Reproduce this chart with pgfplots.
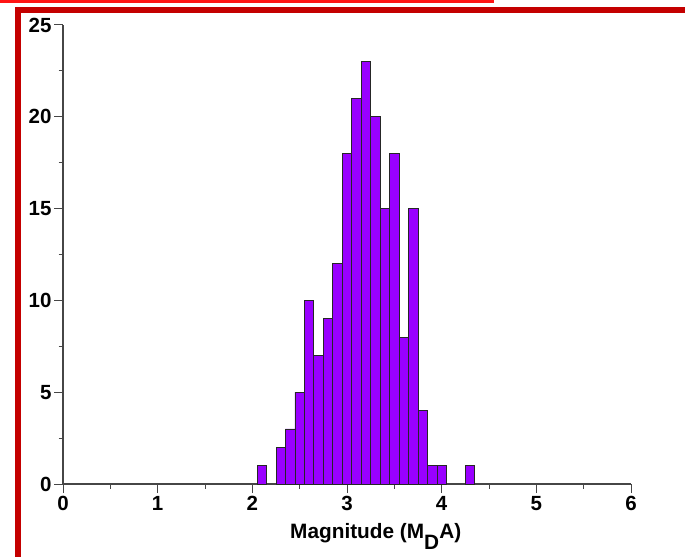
\documentclass[border=0pt]{standalone}
\usepackage{fontspec}
\setmainfont{Liberation Sans}
\usepackage{pgfplots}
\pgfplotsset{compat=1.18}
\definecolor{barpurple}{RGB}{153,0,255}
\definecolor{framered}{RGB}{196,0,0}
\definecolor{topred}{RGB}{255,20,20}
\definecolor{axgray}{RGB}{70,70,70}
\begin{document}
\begin{tikzpicture}[x=1pt,y=1pt]
\useasboundingbox (0,0) rectangle (685,557);
% slide frame
\fill[white] (0,0) rectangle (685,557);
\fill[topred] (0,554) rectangle (494,557);
\fill[framered] (15,0) rectangle (21,550);
\fill[framered] (15,544) rectangle (685,550);
\begin{axis}[
  at={(63pt,73pt)}, anchor=south west,
  scale only axis, width=568pt, height=459pt,
  xmin=0, xmax=6, ymin=0, ymax=25,
  axis x line*=bottom, axis y line*=left,
  axis line style={axgray, line width=1.2pt},
  xtick={0,1,...,6}, ytick={0,5,...,25},
  minor x tick num=1, minor y tick num=1,
  tick align=outside,
  major tick length=9pt, minor tick length=4.5pt,
  every tick/.style={axgray, line width=1pt},
  /pgf/number format/assume math mode=true,
  tick label style={font=\fontsize{20.5}{24}\selectfont\bfseries},
  yticklabel style={xshift=1pt},
  xlabel={Magnitude (M\raisebox{-11pt}{D}A)},
  xlabel style={font=\fontsize{20.8}{24}\selectfont\bfseries, at={(axis description cs:0.3938,-0.1198)}, anchor=base west},
]
\addplot[ybar, bar width=0.1, fill=barpurple, draw=black!85, line width=0.8pt] coordinates {
(2.1,1) (2.3,2) (2.4,3) (2.5,5) (2.6,10) (2.7,7) (2.8,9) (2.9,12)
(3.0,18) (3.1,21) (3.2,23) (3.3,20) (3.4,15) (3.5,18) (3.6,8) (3.7,15)
(3.8,4) (3.9,1) (4.0,1) (4.3,1)
};
\end{axis}
\end{tikzpicture}
\end{document}
